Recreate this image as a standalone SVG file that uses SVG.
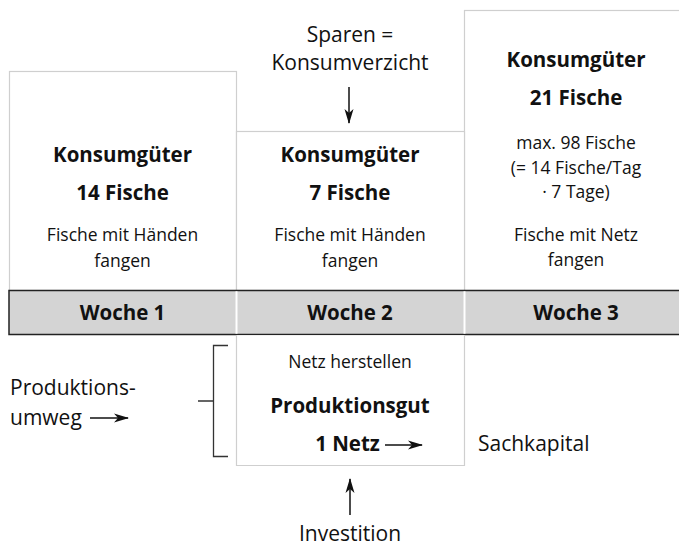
<svg xmlns="http://www.w3.org/2000/svg" width="679" height="547" viewBox="0 0 679 547">
<defs>
<style>
text{font-family:"Open Sans","Noto Sans","Liberation Sans",sans-serif;fill:#111;text-anchor:middle}
.b{font-weight:bold;font-size:20.5px}
.r{font-size:17.5px}
.l{font-size:21px}
.box{fill:#fff;stroke:#cfcfcf;stroke-width:1.2}
.ln{stroke:#111;stroke-width:1.5;fill:none}
.br{stroke:#333;stroke-width:1.3;fill:none}
</style>
<marker id="ah" viewBox="0 0 15 10" refX="14" refY="5" markerWidth="15" markerHeight="10" markerUnits="userSpaceOnUse" orient="auto">
<path d="M0,0.5 L15,5 L0,9.5 L4,5 z" fill="#111"/>
</marker>
</defs>
<rect width="679" height="547" fill="#fff"/>
<g id="woche1">
<rect class="box" x="9.5" y="71.5" width="227" height="219"/>
<text class="b" x="122.5" y="162">Konsumgüter</text>
<text class="b" x="122.5" y="200">14 Fische</text>
<text class="r" x="122.5" y="241">Fische mit Händen</text>
<text class="r" x="122.5" y="267">fangen</text>
</g>
<g id="woche3">
<rect class="box" x="464.5" y="10.5" width="240" height="280"/>
<text class="b" x="576" y="67">Konsumgüter</text>
<text class="b" x="576" y="105">21 Fische</text>
<text class="r" x="576" y="149">max. 98 Fische</text>
<text class="r" x="576" y="174">(= 14 Fische/Tag</text>
<text class="r" x="576" y="198">· 7 Tage)</text>
<text class="r" x="576" y="241">Fische mit Netz</text>
<text class="r" x="576" y="266">fangen</text>
</g>
<g id="woche2">
<rect class="box" x="236.5" y="131.5" width="228" height="159"/>
<text class="b" x="350" y="162">Konsumgüter</text>
<text class="b" x="350" y="200">7 Fische</text>
<text class="r" x="350" y="241">Fische mit Händen</text>
<text class="r" x="350" y="267">fangen</text>
</g>
<g id="sparen">
<text class="l" x="350" y="42">Sparen =</text>
<text class="l" x="350" y="70">Konsumverzicht</text>
</g>
<g id="bar">
<rect x="9" y="290.5" width="680" height="44" fill="#d4d4d4" stroke="#222" stroke-width="1.5"/>
<line x1="236.5" y1="291.3" x2="236.5" y2="333.7" stroke="#fff" stroke-width="2"/>
<line x1="464.5" y1="291.3" x2="464.5" y2="333.7" stroke="#fff" stroke-width="2"/>
<text class="b" x="122.5" y="320">Woche 1</text>
<text class="b" x="350" y="320">Woche 2</text>
<text class="b" x="576" y="320">Woche 3</text>
</g>
<g id="produktionsgut">
<path class="box" d="M236.5,335.3 V465.5 H464.5 V335.3"/>
<text class="r" x="350" y="368">Netz herstellen</text>
<text class="b" x="350" y="413">Produktionsgut</text>
<text class="b" x="347.5" y="451">1 Netz</text>
</g>
<g id="produktionsumweg">
<text class="l" x="10" y="395" style="text-anchor:start">Produktions-</text>
<text class="l" x="10" y="425" style="text-anchor:start">umweg</text>
</g>
<g id="sachkapital">
<text class="l" x="478" y="451" style="text-anchor:start">Sachkapital</text>
</g>
<g id="investition">
<text class="l" x="350" y="541">Investition</text>
</g>
<g id="connectors">
<line class="ln" x1="349" y1="87" x2="349" y2="123" marker-end="url(#ah)"/>
<line class="ln" x1="90" y1="418" x2="128" y2="418" marker-end="url(#ah)"/>
<line class="ln" x1="385" y1="445" x2="422" y2="445" marker-end="url(#ah)"/>
<line class="ln" x1="350" y1="515" x2="350" y2="479" marker-end="url(#ah)"/>
<path class="br" d="M228,345.5 H213.5 V456.5 H228 M198,401 H213.5"/>
</g>
</svg>
